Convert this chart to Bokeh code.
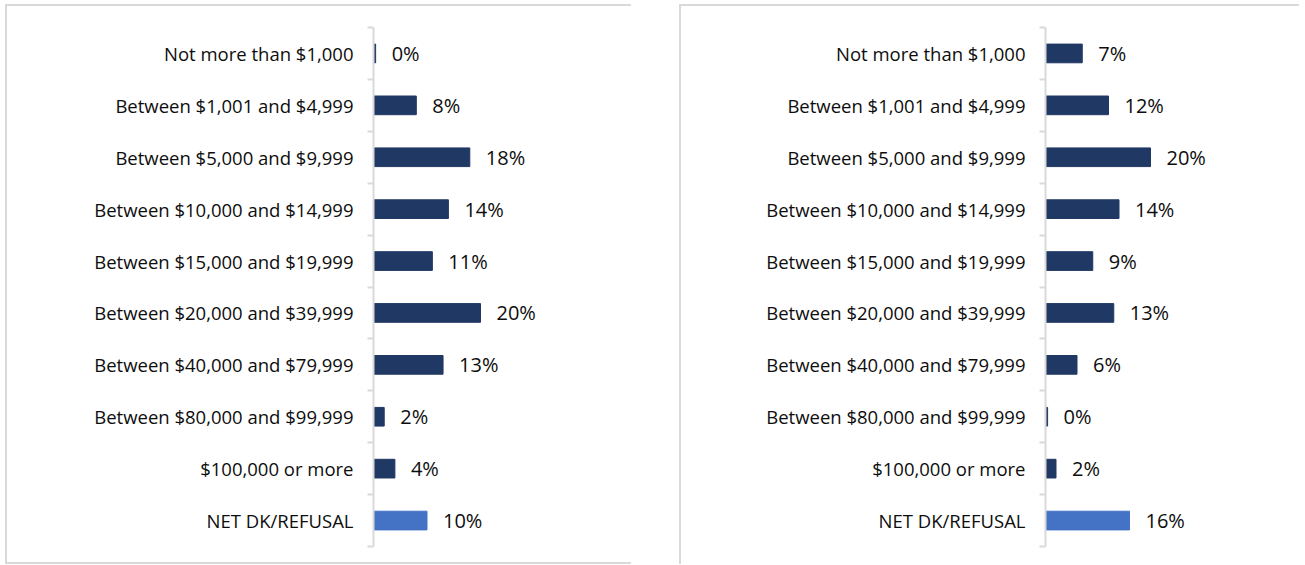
from bokeh.plotting import figure
from bokeh.layouts import row, column
from bokeh.models import FixedTicker, ColumnDataSource, Spacer
from bokeh.core.properties import value
from bokeh.embed import file_html
from bokeh.resources import INLINE

categories = [
    "Not more than $1,000",
    "Between $1,001 and $4,999",
    "Between $5,000 and $9,999",
    "Between $10,000 and $14,999",
    "Between $15,000 and $19,999",
    "Between $20,000 and $39,999",
    "Between $40,000 and $79,999",
    "Between $80,000 and $99,999",
    "$100,000 or more",
    "NET DK/REFUSAL",
]
left_values = [0.4, 8, 18, 14, 11, 20, 13, 2, 4, 10]
left_labels = ["0%", "8%", "18%", "14%", "11%", "20%", "13%", "2%", "4%", "10%"]
right_values = [7, 12, 20, 14, 9, 13, 6, 0.4, 2, 16]
right_labels = ["7%", "12%", "20%", "14%", "9%", "13%", "6%", "0%", "2%", "16%"]

DARK = "#203864"
LIGHT = "#4472C4"
FONT = "Open Sans"
TXT = "#0d0d0d"
GRAY = "#d9d9d9"


def make_panel(vals, labels, width, height, bl, bt, bb, px_per_pct, border_style):
    n = len(categories)
    centers = [n - i - 0.5 for i in range(n)]
    bounds = list(range(n + 1))
    colors = [DARK] * (n - 1) + [LIGHT]
    src = ColumnDataSource(dict(y=centers, v=vals, lab=labels, c=colors))
    br = 10
    frame_w = width - bl - br
    p = figure(width=width, height=height, output_backend="svg", toolbar_location=None,
               x_range=(0, frame_w / px_per_pct), y_range=(0, n),
               min_border_left=bl, min_border_right=br,
               min_border_top=bt, min_border_bottom=bb)
    p.hbar(y="y", left=0, right="v", height=0.36, color="c", source=src)
    p.text(x="v", y="y", text="lab", source=src, x_offset=16,
           text_baseline="middle", text_align="left",
           text_font=value(FONT), text_font_size="20px", text_color=TXT)
    p.xaxis.visible = False
    p.grid.visible = False
    p.outline_line_color = None
    ax = p.yaxis[0]
    ax.ticker = FixedTicker(ticks=centers, minor_ticks=bounds)
    ax.major_label_overrides = {c: categories[i] for i, c in enumerate(centers)}
    ax.major_tick_line_color = None
    ax.major_tick_out = 0
    ax.major_tick_in = 0
    ax.minor_tick_out = 6
    ax.minor_tick_in = 0
    ax.minor_tick_line_color = GRAY
    ax.minor_tick_line_width = 2
    ax.axis_line_color = GRAY
    ax.axis_line_width = 2
    ax.major_label_standoff = 14
    ax.major_label_text_font = FONT
    ax.major_label_text_font_size = "18.5px"
    ax.major_label_text_color = TXT
    p.styles = border_style
    return p


left = make_panel(left_values, left_labels, 626, 560, 366, 21, 20, 5.35,
                  {"border-top": f"2px solid {GRAY}", "border-left": f"2px solid {GRAY}",
                   "border-bottom": f"2px solid {GRAY}"})
right = make_panel(right_values, right_labels, 620, 560, 364, 21, 10, 5.25,
                   {"border-top": f"2px solid {GRAY}", "border-left": f"2px solid {GRAY}"})
layout = column(Spacer(height=4),
                row(Spacer(width=5), left, Spacer(width=48), right, spacing=0),
                spacing=0)

open("out.html", "w").write(file_html(layout, INLINE))
